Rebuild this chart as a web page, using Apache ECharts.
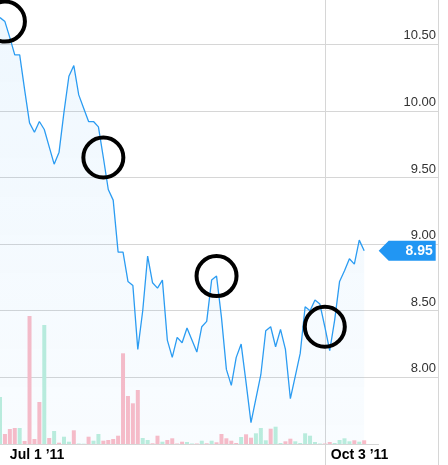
<!DOCTYPE html>
<html>
<head>
<meta charset="utf-8">
<script src="https://cdn.jsdelivr.net/npm/echarts@6/dist/echarts.min.js"></script>
<style>
  html, body { margin: 0; padding: 0; background: #fff; }
  #chart { width: 448px; height: 465px; }
</style>
</head>
<body>
<div id="chart"></div>
<script>
// Trading days, Jun 29 '11 onwards (the tail past the data is empty room on the right).
const dates = ('6/29 6/30 7/1 7/5 7/6 7/7 7/8 7/11 7/12 7/13 7/14 7/15 7/18 7/19 7/20 7/21 7/22 ' +
  '7/25 7/26 7/27 7/28 7/29 8/1 8/2 8/3 8/4 8/5 8/8 8/9 8/10 8/11 8/12 8/15 8/16 8/17 8/18 8/19 ' +
  '8/22 8/23 8/24 8/25 8/26 8/29 8/30 8/31 9/1 9/2 9/6 9/7 9/8 9/9 9/12 9/13 9/14 9/15 9/16 ' +
  '9/19 9/20 9/21 9/22 9/23 9/26 9/27 9/28 9/29 9/30 10/3 10/4 10/5 10/6 10/7 10/10 10/11 10/12 ' +
  '10/13 10/14 10/17 10/18 10/19 10/20 10/21 10/24 10/25 10/26 10/27 10/28 10/31 11/1 11/2 11/3').split(' ');

const closes = [
  10.70, 10.67, 10.55, 10.42, 10.42, 10.16, 9.91, 9.84, 9.92, 9.86,
  9.73, 9.60, 9.69, 9.99, 10.26, 10.34, 10.12, 10.02, 9.92, 9.92,
  9.88, 9.65, 9.41, 9.33, 8.94, 8.94, 8.72, 8.69, 8.21, 8.50,
  8.91, 8.71, 8.67, 8.73, 8.28, 8.15, 8.30, 8.26, 8.37, 8.28,
  8.19, 8.38, 8.42, 8.73, 8.76, 8.45, 8.06, 7.94, 8.15, 8.25,
  7.96, 7.66, 7.84, 8.02, 8.35, 8.38, 8.23, 8.36, 8.21, 7.84,
  8.01, 8.18, 8.53, 8.50, 8.58, 8.55, 8.38, 8.20, 8.43, 8.72,
  8.80, 8.89, 8.85, 9.03, 8.95
];

// volume in millions of shares
const volumes = [
  4.7, 1.0, 1.5, 1.6, 1.6, 0.3, 12.8, 0.5, 4.2, 11.9,
  0.6, 1.3, 0.13, 0.73, 0.23, 1.37, 0.05, 0.03, 0.73, 0.33,
  1.0, 0.33, 0.4, 0.5, 0.83, 9.07, 4.8, 4.07, 5.4, 0.6,
  0.4, 0.07, 0.83, 0.23, 0.4, 0.57, 0.05, 0.23, 0.2, 0.05,
  0.05, 0.33, 0.07, 0.33, 0.17, 1.0, 0.57, 0.33, 0.1, 0.7,
  0.97, 0.63, 1.07, 1.6, 0.37, 1.53, 1.73, 0.1, 0.27, 0.53,
  0.27, 0.1, 1.07, 0.83, 0.2, 0.05, 0.05, 0.2, 0.1, 0.4,
  0.57, 0.27, 0.37, 0.23, 0.37
];

// g = up day, p = down day
const volDir = [
  'g','p','p','p','g','p','p','p','p','g',
  'p','g','p','g','g','p','g','g','p','g',
  'g','p','p','p','p','p','p','p','p','g',
  'g','p','p','g','p','p','p','p','g','g',
  'p','g','p','g','p','p','p','p','p','g',
  'p','p','g','g','g','p','g','g','p','p',
  'g','g','g','g','g','g','p','p','g','g',
  'g','g','p','g','p'
];

const labelDates = ['7/1', '10/3'];
const labelTexts = ['Jul 1 \u201911', 'Oct 3 \u201911'];
const priceTicks = { min: 7.5, max: 10.832, step: 0.5 };

// points someone ringed by hand on the original
const circled = [1, 21, 44, 66];

const BLUE = '#2b9cf2';
const TAG = '#2196f3';
const GRID = '#d6d6d6';
const FONT = '"Liberation Sans", Arial, sans-serif';

const chart = echarts.init(document.getElementById('chart'));
const last = closes.length - 1;

chart.setOption({
  animation: false,
  grid: { left: -1, right: 10, top: 0, bottom: 21 },
  xAxis: {
    type: 'category',
    data: dates,
    boundaryGap: false,
    axisLine: { show: false },
    axisTick: {
      show: true,
      length: 21,
      interval: (i, v) => v === '10/3' || i === dates.length - 1,
      lineStyle: { color: GRID }
    },
    axisLabel: {
      interval: (i, v) => labelDates.indexOf(v) >= 0,
      formatter: (v) => {
        const k = labelDates.indexOf(v);
        return k === 1 ? '{o|' + labelTexts[k] + '}' : '{j|' + labelTexts[k] + '}';
      },
      align: 'left',
      margin: 4,
      rich: {
        j: { fontFamily: FONT, fontSize: 14, fontWeight: 'bold', color: '#000' },
        o: { fontFamily: FONT, fontSize: 14, fontWeight: 'bold', color: '#000', padding: [0, 0, 0, 6] }
      }
    },
    splitLine: {
      show: true,
      interval: (i, v) => v === '10/3',
      lineStyle: { color: GRID }
    }
  },
  yAxis: [
    {
      type: 'value',
      position: 'right',
      min: priceTicks.min,
      max: priceTicks.max,
      interval: priceTicks.step,
      axisLine: { show: true, lineStyle: { color: GRID } },
      axisTick: { show: false },
      axisLabel: {
        inside: true,
        margin: 2,
        showMinLabel: false,
        showMaxLabel: false,
        verticalAlign: 'bottom',
        padding: [0, 0, 2, 0],
        fontFamily: FONT,
        fontSize: 13,
        color: '#333',
        formatter: (v) => v.toFixed(2)
      },
      splitLine: { show: true, showMinLine: false, showMaxLine: false, lineStyle: { color: GRID } }
    },
    { type: 'value', min: 0, max: 44.4, show: false }
  ],
  series: [
    {
      type: 'bar',
      yAxisIndex: 1,
      barWidth: 4,
      z: 1,
      data: volumes.map((v, i) => ({
        value: v,
        itemStyle: { color: volDir[i] === 'g' ? '#bdeedc' : '#fbbcc7' }
      })),
      markLine: {
        silent: true,
        symbol: 'none',
        label: { show: false },
        lineStyle: { color: GRID, type: 'solid', width: 1 },
        data: [[{ coord: [0, 0] }, { coord: [last + 3, 0] }]]
      }
    },
    {
      type: 'line',
      data: closes,
      showSymbol: false,
      z: 3,
      lineStyle: { color: BLUE, width: 1.3 },
      areaStyle: {
        color: new echarts.graphic.LinearGradient(0, 0, 0, 1, [
          { offset: 0, color: 'rgba(33,150,243,0.10)' },
          { offset: 1, color: 'rgba(33,150,243,0.04)' }
        ])
      },
      markPoint: {
        silent: true,
        data: circled.map((i) => ({
          coord: [i, closes[i]],
          symbol: 'circle',
          symbolSize: 40,
          itemStyle: { color: 'rgba(0,0,0,0)', borderColor: '#000', borderWidth: 4 },
          label: { show: false }
        })).concat([{
          coord: [last, closes[last]],
          symbol: 'path://M0,10 L10,0 L57,0 L57,20 L10,20 Z',
          symbolSize: [57, 20],
          symbolOffset: [43, 0],
          itemStyle: { color: TAG },
          label: {
            show: true,
            position: 'inside',
            offset: [12, 0],
            formatter: closes[last].toFixed(2),
            color: '#fff',
            fontFamily: FONT,
            fontSize: 14,
            fontWeight: 'bold'
          }
        }])
      }
    }
  ]
});
</script>
</body>
</html>
